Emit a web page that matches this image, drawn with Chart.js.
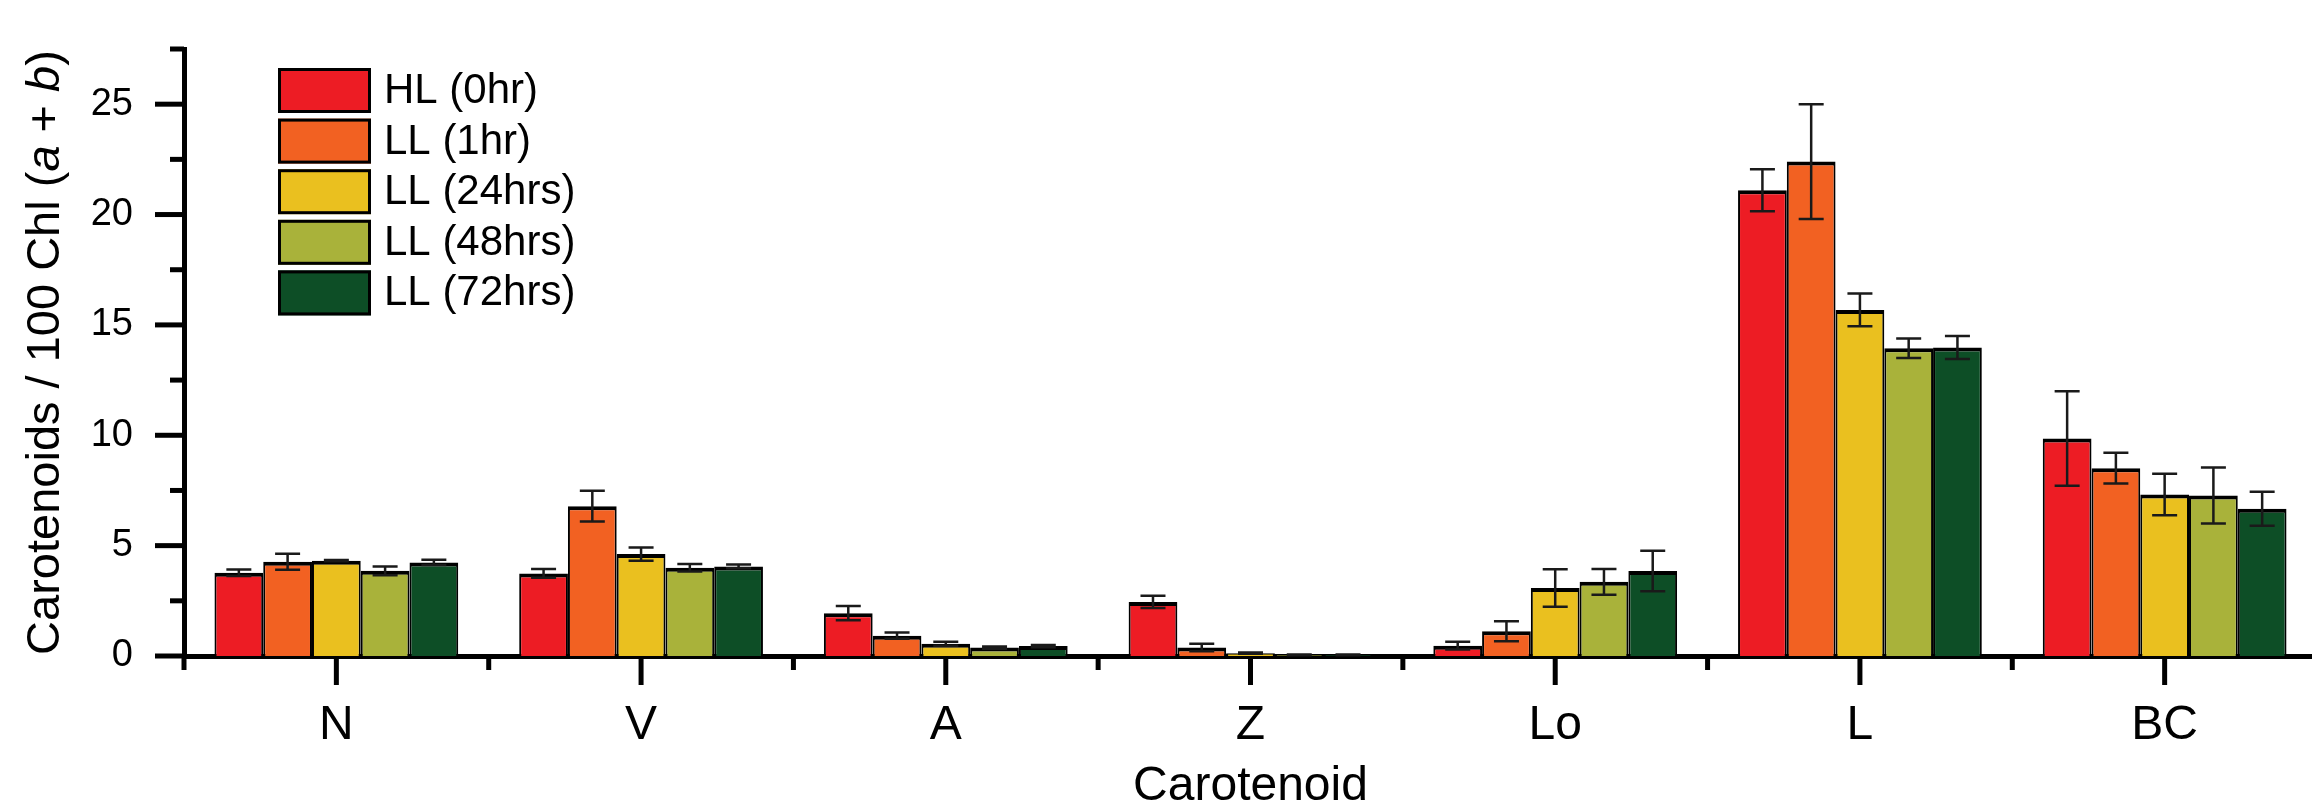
<!DOCTYPE html>
<html>
<head>
<meta charset="utf-8">
<title>Carotenoids</title>
<script src="https://cdn.jsdelivr.net/npm/chart.js@4.4.1/dist/chart.umd.min.js"></script>
<style>
  html, body { margin: 0; padding: 0; background: #fff; overflow: hidden; }
  #wrap { width: 2322px; height: 830px; }
</style>
</head>
<body>
<div id="wrap"><canvas id="myChart" width="2322" height="830"></canvas></div>
<script>
const FONT = '"Liberation Sans", Arial, Helvetica, sans-serif';

const categories = ['N', 'V', 'A', 'Z', 'Lo', 'L', 'BC'];
const seriesNames = ['HL (0hr)', 'LL (1hr)', 'LL (24hrs)', 'LL (48hrs)', 'LL (72hrs)'];
const seriesColors = ['#ED1C24', '#F26122', '#EAC01F', '#A9B23A', '#0D4E26'];

// mean values per carotenoid
const hl0  = [3.77, 3.74, 1.94, 2.45, 0.47, 21.10, 9.85];
const ll1  = [4.27, 6.79, 0.92, 0.39, 1.12, 22.40, 8.51];
const ll24 = [4.32, 4.62, 0.56, 0.13, 3.08, 15.68, 7.32];
const ll48 = [3.86, 4.00, 0.38, 0.05, 3.36, 13.94, 7.27];
const ll72 = [4.24, 4.06, 0.45, 0.05, 3.85, 13.98, 6.67];

// error bars (+/-)
const hl0Err  = [0.15, 0.20, 0.32, 0.28, 0.18, 0.95, 2.14];
const ll1Err  = [0.36, 0.70, 0.14, 0.17, 0.45, 2.60, 0.70];
const ll24Err = [0.03, 0.30, 0.09, 0.03, 0.85, 0.74, 0.94];
const ll48Err = [0.20, 0.17, 0.05, 0.02, 0.58, 0.44, 1.27];
const ll72Err = [0.12, 0.08, 0.05, 0.02, 0.92, 0.52, 0.77];

const yMin = 0;
const yMax = 27.5;
const yStep = 2.5;
const yLabelEvery = 5;

const seriesValues = [hl0, ll1, ll24, ll48, ll72];
const seriesErrors = [hl0Err, ll1Err, ll24Err, ll48Err, ll72Err];

// error bars on top of each bar
const errorBars = {
  id: 'errorBars',
  afterDatasetsDraw(chart) {
    const ctx = chart.ctx;
    const y = chart.scales.y;
    ctx.save();
    ctx.strokeStyle = '#1a1a1a';
    ctx.lineWidth = 2.5;
    chart.data.datasets.forEach((ds, i) => {
      const meta = chart.getDatasetMeta(i);
      meta.data.forEach((bar, j) => {
        const v = ds.data[j];
        const e = seriesErrors[i][j];
        if (!e) return;
        const top = y.getPixelForValue(v + e);
        const bot = y.getPixelForValue(Math.max(v - e, 0));
        const cap = 12.5;
        ctx.beginPath();
        ctx.moveTo(bar.x, top); ctx.lineTo(bar.x, bot);
        ctx.moveTo(bar.x - cap, top); ctx.lineTo(bar.x + cap, top);
        ctx.moveTo(bar.x - cap, bot); ctx.lineTo(bar.x + cap, bot);
        ctx.stroke();
      });
    });
    ctx.restore();
  }
};

// outward tick marks (long for major, short for minor), legend, y title
const decorations = {
  id: 'decorations',
  afterDraw(chart) {
    const ctx = chart.ctx;
    const x = chart.scales.x;
    const y = chart.scales.y;
    const area = chart.chartArea;
    ctx.save();
    ctx.strokeStyle = '#000';
    ctx.lineWidth = 5;
    ctx.lineCap = 'butt';

    // y ticks
    y.ticks.forEach((t) => {
      const py = y.getPixelForValue(t.value);
      const major = Math.abs(t.value % yLabelEvery) < 1e-6;
      ctx.beginPath();
      ctx.moveTo(area.left, py);
      ctx.lineTo(area.left - (major ? 29 : 14), py);
      ctx.stroke();
    });

    // x ticks: category centres (major) and boundaries (minor)
    const w = x.width / categories.length;
    for (let i = 0; i <= categories.length; i++) {
      const px = x.left + i * w;
      ctx.beginPath();
      ctx.moveTo(px, area.bottom);
      ctx.lineTo(px, area.bottom + 14);
      ctx.stroke();
    }
    categories.forEach((c, i) => {
      const px = x.getPixelForValue(i);
      ctx.beginPath();
      ctx.moveTo(px, area.bottom);
      ctx.lineTo(px, area.bottom + 29);
      ctx.stroke();
    });

    // legend
    const lx = 278, ly = 68, bw = 93, bh = 45, pitch = 50.6;
    ctx.lineWidth = 3;
    ctx.font = '42px ' + FONT;
    ctx.textBaseline = 'middle';
    ctx.textAlign = 'left';
    chart.data.datasets.forEach((ds, i) => {
      const by = ly + i * pitch;
      ctx.fillStyle = ds.backgroundColor;
      ctx.fillRect(lx, by, bw, bh);
      ctx.strokeRect(lx + 1.5, by + 1.5, bw - 3, bh - 3);
      ctx.fillStyle = '#000';
      ctx.fillText(ds.label, 384, by + bh / 2 + 1);
    });

    // y axis title with italic a and b
    const parts = [
      ['Carotenoids / 100 Chl (', ''],
      ['a', 'italic '],
      [' + ', ''],
      ['b', 'italic '],
      [')', '']
    ];
    ctx.translate(46, (area.top + area.bottom) / 2);
    ctx.rotate(-Math.PI / 2);
    let total = 0;
    parts.forEach(([s, st]) => { ctx.font = st + '47px ' + FONT; total += ctx.measureText(s).width; });
    let cx = -total / 2;
    parts.forEach(([s, st]) => {
      ctx.font = st + '47px ' + FONT;
      ctx.fillText(s, cx, 0);
      cx += ctx.measureText(s).width;
    });
    ctx.restore();
  }
};

const ctx = document.getElementById('myChart').getContext('2d');
new Chart(ctx, {
  type: 'bar',
  data: {
    labels: categories,
    datasets: seriesNames.map((name, i) => ({
      label: name,
      data: seriesValues[i],
      backgroundColor: seriesColors[i],
      borderColor: '#000',
      borderWidth: { top: 4, left: 2, right: 2, bottom: 0 },
      borderSkipped: 'start',
      categoryPercentage: 0.8,
      barPercentage: 1.0
    }))
  },
  options: {
    responsive: false,
    animation: false,
    devicePixelRatio: 1,
    layout: { padding: { top: 49, right: 5, left: 0, bottom: 0 } },
    plugins: {
      legend: { display: false },
      tooltip: { enabled: false }
    },
    scales: {
      x: {
        z: 1,
        offset: true,
        grid: { display: false, drawTicks: false },
        border: { display: true, color: '#000', width: 5 },
        ticks: {
          color: '#000',
          font: { family: FONT, size: 48 },
          padding: 41
        },
        title: {
          display: true,
          text: 'Carotenoid',
          color: '#000',
          font: { family: FONT, size: 48 },
          padding: { top: 0, bottom: 14 }
        },
        afterFit(scale) { scale.height = 830 - 656; }
      },
      y: {
        z: 1,
        min: yMin,
        max: yMax,
        grid: { display: false, drawTicks: false },
        border: { display: true, color: '#000', width: 5 },
        ticks: {
          stepSize: yStep,
          color: '#000',
          font: { family: FONT, size: 38 },
          padding: 51,
          callback: (v) => (Math.abs(v % yLabelEvery) < 1e-6 ? String(v) : '')
        },
        afterFit(scale) {
          scale.width = 184;
          scale.paddingTop = 0;
          scale.paddingBottom = 0;
        }
      }
    }
  },
  plugins: [errorBars, decorations]
});
</script>
</body>
</html>
